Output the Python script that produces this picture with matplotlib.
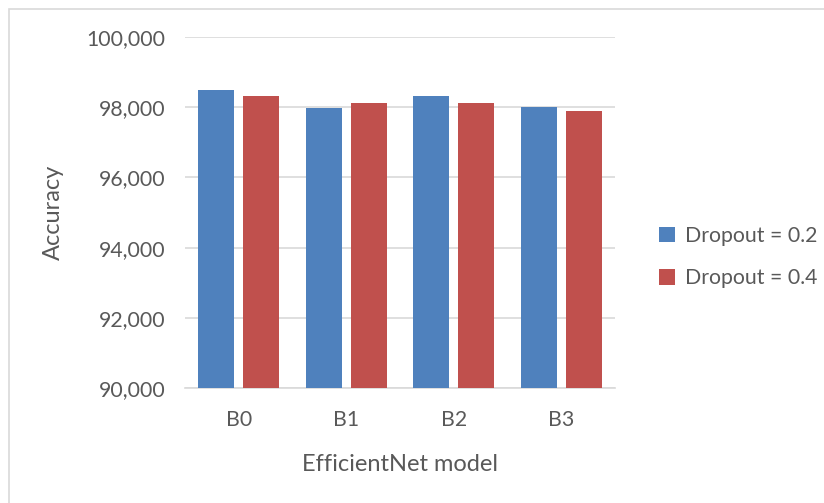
import numpy as np
import matplotlib.pyplot as plt
from matplotlib.patches import Rectangle

# data
models = ["B0", "B1", "B2", "B3"]
dropout_02 = [98.48, 97.99, 98.31, 98.00]
dropout_04 = [98.31, 98.12, 98.12, 97.88]
series_names = ["Dropout = 0.2", "Dropout = 0.4"]
y_ticks = [90, 92, 94, 96, 98, 100]

plt.rcParams['font.family'] = ['Lato', 'DejaVu Sans']
txt = '#595959'

fig = plt.figure(figsize=(8.24, 5.03), dpi=100)
# outer chart frame
fig.patches.append(Rectangle((9/824, -0.05), 1.2, 1 - 9/503 + 0.05, transform=fig.transFigure,
                             fill=False, edgecolor='#d9d9d9', linewidth=1.2))

ax = fig.add_axes([185/824, 1 - 388/503, 430/824, 351/503])

x = np.arange(len(models))
w = 0.335
off = 0.209
ax.bar(x - off, dropout_02, w, bottom=0, color='#4f81bd', label=series_names[0], zorder=3)
ax.bar(x + off, dropout_04, w, bottom=0, color='#c0504d', label=series_names[1], zorder=3)

ax.set_xlim(-0.5, len(models) - 0.5)
ax.set_ylim(90, 100)
ax.set_yticks(y_ticks)
ax.set_yticklabels([f"{v},000" for v in y_ticks])
ax.set_xticks(x)
ax.set_xticklabels(models)
ax.grid(axis='y', color='#d9d9d9', linewidth=1.2, zorder=0)
for s in ['top', 'right', 'left']:
    ax.spines[s].set_visible(False)
ax.spines['bottom'].set_color('#d9d9d9')
ax.spines['bottom'].set_linewidth(1.2)
ax.tick_params(axis='both', length=0, labelsize=15.3, colors=txt)
ax.tick_params(axis='y', pad=14)
ax.tick_params(axis='x', pad=16)
ax.set_xlabel("EfficientNet model", fontsize=17, color=txt, labelpad=17)
ax.set_ylabel("Accuracy", fontsize=17, color=txt, labelpad=16)

ax.legend(loc='center left', bbox_to_anchor=(640/824, 1 - 257/503), bbox_transform=fig.transFigure,
          frameon=False, fontsize=15.3, labelcolor=txt, handlelength=0.75, handleheight=0.75,
          handletextpad=0.45, labelspacing=1.05)

fig.savefig("out.png", dpi=100)
